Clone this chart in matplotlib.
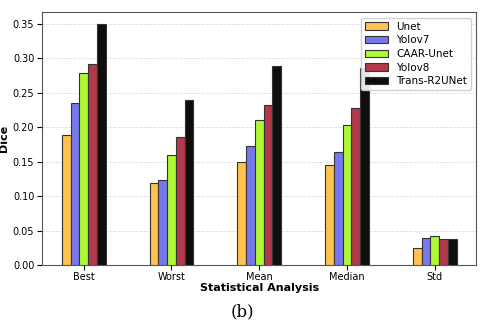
import numpy as np
import matplotlib.pyplot as plt

categories = ['Best', 'Worst', 'Mean', 'Median', 'Std']
models = ['Unet', 'Yolov7', 'CAAR-Unet', 'Yolov8', 'Trans-R2UNet']
unet = [0.188, 0.119, 0.149, 0.145, 0.024]
yolov7 = [0.235, 0.124, 0.172, 0.164, 0.039]
caar_unet = [0.278, 0.160, 0.211, 0.203, 0.042]
yolov8 = [0.291, 0.185, 0.232, 0.227, 0.038]
trans_r2unet = [0.349, 0.240, 0.289, 0.285, 0.038]
colors = ['#FFC24F', '#7777EE', '#AEF836', '#B03A4A', '#0E0E0E']

series = [unet, yolov7, caar_unet, yolov8, trans_r2unet]

fig = plt.figure(figsize=(4.8, 3.24), dpi=100)
ax = fig.add_axes([0.0875, 0.182, 0.905, 0.78])

x = np.arange(len(categories))
w = 0.1
for i, (vals, name) in enumerate(zip(series, models)):
    ax.bar(x + (i - 2) * w, vals, w, color=colors[i], edgecolor='#333333',
           linewidth=0.8, label=name, zorder=3)

ax.set_xticks(x)
ax.set_xticklabels(categories, fontsize=7)
ax.tick_params(axis='x', pad=1.5)
ax.tick_params(axis='y', labelsize=7, pad=2)
ax.set_xlabel('Statistical Analysis', fontsize=8, fontweight='bold', labelpad=1)
ax.set_ylabel('Dice', fontsize=8, fontweight='bold', labelpad=3)
ax.yaxis.grid(True, linestyle='--', color='#dddddd', linewidth=0.6, zorder=0)
for s in ax.spines.values():
    s.set_color('#555555')
ax.legend(loc='upper right', fontsize=7.5, framealpha=0.9, handlelength=2.2,
          labelspacing=0.35)

fig.text(0.505, 0.025, '(b)', fontsize=12, family='serif', ha='center')
fig.savefig('out.png', dpi=100)
